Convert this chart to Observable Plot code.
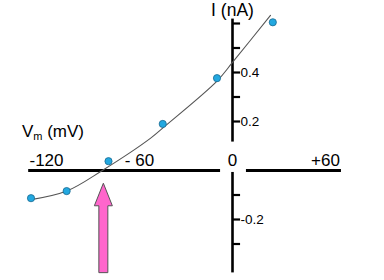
<!DOCTYPE html>
<html>
<head>
<meta charset="utf-8">
<script src="https://cdn.jsdelivr.net/npm/d3@7"></script>
<script src="https://cdn.jsdelivr.net/npm/@observablehq/plot@0.6"></script>
<style>
  html, body { margin: 0; padding: 0; background: white; }
</style>
</head>
<body>
<div id="chart"></div>
<script>
// Measured I-V points
const voltage = [-130, -107, -80, -45, -10, 26];
const current = [-0.113, -0.084, 0.038, 0.19, 0.377, 0.605];
// Fitted curve samples
const fitVoltage = [-129, -107, -84, -53, -43, -10, 0, 24.5];
const fitCurrent = [-0.118, -0.084, 0, 0.131, 0.184, 0.365, 0.441, 0.633];
// Axis labels
const xTickValues = [-120, -60, 0, 60];
const xTickLabels = ["-120", "- 60", "0", "+60"];
const yTickValues = [0.6, 0.5, 0.4, 0.3, 0.2, -0.1, -0.2, -0.3];
const yLabelValues = [0.4, 0.2, -0.2];
const yLabelTexts = ["0.4", "0.2", "-0.2"];
// Axis extents (data units)
const xAxisSegments = [[-131.5, -7.7], [9, 70.3]];
const yAxisSegments = [[0.116, 0.618], [-0.418, -0.008]];
// Reversal potential arrow
const reversalPotential = -83;
const arrowTipI = -0.054, arrowHeadBaseI = -0.146, arrowBottomI = -0.419;

const points = voltage.map((v, i) => ({v, i: current[i]}));
const fit = fitVoltage.map((v, i) => ({v, i: fitCurrent[i]}));
const font = "'Liberation Sans', Arial, Helvetica, sans-serif";

const plot = Plot.plot({
  width: 384,
  height: 280,
  margin: 0,
  x: {domain: [-232 / 1.55, 152 / 1.55], axis: null},
  y: {domain: [-110 / 245, 170 / 245], axis: null},
  style: {fontFamily: font, background: "white", color: "black"},
  marks: [
    Plot.ruleY(xAxisSegments, {y: 0, x1: d => d[0], x2: d => d[1], stroke: "black", strokeWidth: 3.2}),
    Plot.ruleX(yAxisSegments, {x: 0, y1: d => d[0], y2: d => d[1], stroke: "black", strokeWidth: 2.6}),
    Plot.ruleY(yTickValues, {y: d => d, x1: 0, x2: 5.2, stroke: "black", strokeWidth: 2.2}),
    Plot.text(yLabelValues, {x: 0, y: d => d, text: (d, i) => yLabelTexts[i], dx: 8, textAnchor: "start", fontSize: 13.5, fill: "black"}),
    Plot.text(xTickValues, {x: d => d, y: 0, text: (d, i) => xTickLabels[i], dy: -9.5, fontSize: 17, fill: "black"}),
    Plot.text(["I (nA)"], {x: 0, frameAnchor: "top", dy: 3, fontSize: 17.5, fill: "black"}),
    Plot.line(fit, {x: "v", y: "i", curve: "catmull-rom", stroke: "#555", strokeWidth: 1.1}),
    Plot.dot(points, {x: "v", y: "i", r: 3.6, fill: "#22a8e0", stroke: "#1b6a90", strokeWidth: 0.8})
  ]
});
document.getElementById("chart").appendChild(plot);

const xs = plot.scale("x"), ys = plot.scale("y");
const svg = d3.select(plot);
// Block arrow pointing at reversal potential
const cx = xs.apply(reversalPotential);
const tipY = ys.apply(arrowTipI), baseY = ys.apply(arrowHeadBaseI), botY = ys.apply(arrowBottomI);
const hw = 9, sw = 4.5;
svg.append("path")
  .attr("d", `M${cx},${tipY} L${cx + hw},${baseY} L${cx + sw},${baseY} L${cx + sw},${botY} L${cx - sw},${botY} L${cx - sw},${baseY} L${cx - hw},${baseY} Z`)
  .attr("fill", "#ff66cc")
  .attr("stroke", "#555")
  .attr("stroke-width", 1);
// V_m (mV) axis title with subscript
const t = svg.append("text")
  .attr("x", xs.apply(-135.5))
  .attr("y", ys.apply(0.135))
  .attr("text-anchor", "start")
  .attr("font-family", font)
  .attr("font-size", 17)
  .attr("fill", "black");
t.append("tspan").text("V");
t.append("tspan").attr("font-size", 11).attr("dy", 3).text("m");
t.append("tspan").attr("dy", -3).text(" (mV)");
</script>
</body>
</html>
